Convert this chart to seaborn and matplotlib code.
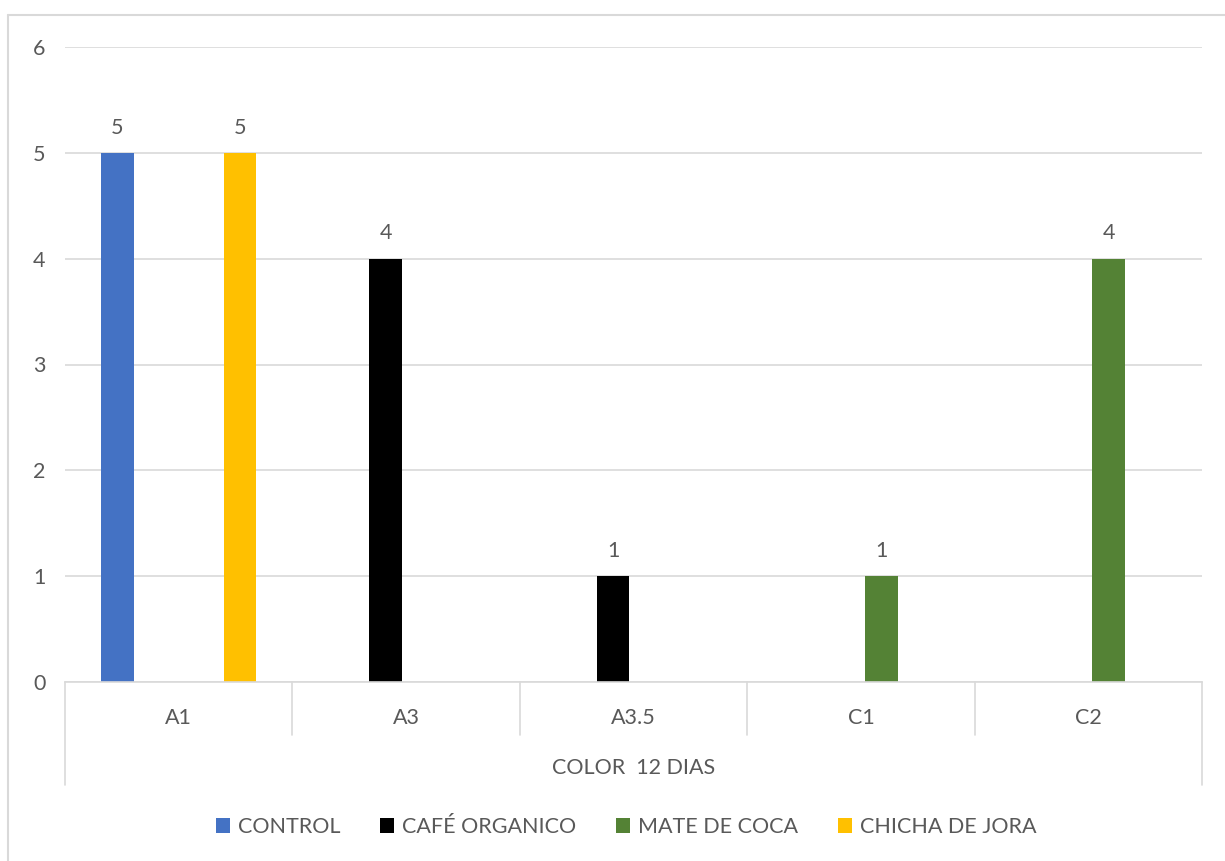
import numpy as np
import pandas as pd
import matplotlib
matplotlib.use("Agg")
import matplotlib.pyplot as plt
from matplotlib.patches import Patch
from matplotlib.lines import Line2D
import seaborn as sns

categories = ["A1", "A3", "A3.5", "C1", "C2"]
series = ["CONTROL", "CAFÉ ORGANICO", "MATE DE COCA", "CHICHA DE JORA"]
control = [5, np.nan, np.nan, np.nan, np.nan]
cafe = [np.nan, 4, 1, np.nan, np.nan]
mate = [np.nan, np.nan, np.nan, 1, 4]
chicha = [5, np.nan, np.nan, np.nan, np.nan]
colors = ["#4472C4", "#000000", "#548235", "#FFC000"]
y_ticks = [0, 1, 2, 3, 4, 5, 6]
x_title = "COLOR  12 DIAS"

rows = []
for name, vals in zip(series, [control, cafe, mate, chicha]):
    for c, v in zip(categories, vals):
        rows.append({"cat": c, "serie": name, "val": v})
df = pd.DataFrame(rows)

sns.set_theme(style="white")
plt.rcParams["font.family"] = ["Lato", "DejaVu Sans"]
txt = "#595959"
grid = "#D9D9D9"
fs = 15.5

fig = plt.figure(figsize=(12.25, 8.61), dpi=100)
ax = fig.add_axes([65/1225, 1-682/861, (1202-65)/1225, (682-47)/861])

sns.barplot(data=df.dropna(), x="cat", y="val", hue="serie", order=categories,
            hue_order=series, palette=colors, width=0.72, gap=0.2,
            linewidth=0, saturation=1, ax=ax, legend=False, errorbar=None)

for cont in ax.containers:
    ax.bar_label(cont, fmt="%g", padding=11, color=txt, fontsize=fs)

ax.set_ylim(0, 6)
ax.set_xlim(-0.5, len(categories) - 0.5)
ax.set_yticks(y_ticks)
ax.yaxis.grid(True, color=grid, linewidth=1.2)
ax.set_axisbelow(True)
for s in ["top", "right", "left"]:
    ax.spines[s].set_visible(False)
ax.spines["bottom"].set_color(grid)
ax.spines["bottom"].set_linewidth(1.2)
ax.tick_params(axis="y", length=0, pad=14, labelcolor=txt, labelsize=fs)
ax.tick_params(axis="x", length=0, pad=19, labelcolor=txt, labelsize=fs)
ax.set_xlabel("")
ax.set_ylabel("")

trans = ax.get_xaxis_transform()
n = len(categories)
for i in range(n + 1):
    xb = i - 0.5
    bottom = -0.162 if i in (0, n) else -0.0835
    ax.plot([xb, xb], [0, bottom], transform=trans, color=grid, lw=1.2, clip_on=False)

ax.text(0.5, -0.136, x_title, transform=ax.transAxes, ha="center", va="center",
        color=txt, fontsize=fs)

handles = [Patch(facecolor=c, edgecolor="none", label=s) for c, s in zip(colors, series)]
fig.legend(handles=handles, loc="center", bbox_to_anchor=(0.511, 1-827/861), ncol=4,
           frameon=False, handlelength=0.65, handleheight=0.65, handletextpad=0.37,
           columnspacing=1.85, fontsize=fs, labelcolor=txt)

fig.add_artist(Line2D([8/1225, 8/1225], [0, 1-15/861], transform=fig.transFigure, color=grid, lw=1.5))
fig.add_artist(Line2D([8/1225, 1], [1-15/861, 1-15/861], transform=fig.transFigure, color=grid, lw=1.5))

fig.savefig("out.png", dpi=100, facecolor="white")
